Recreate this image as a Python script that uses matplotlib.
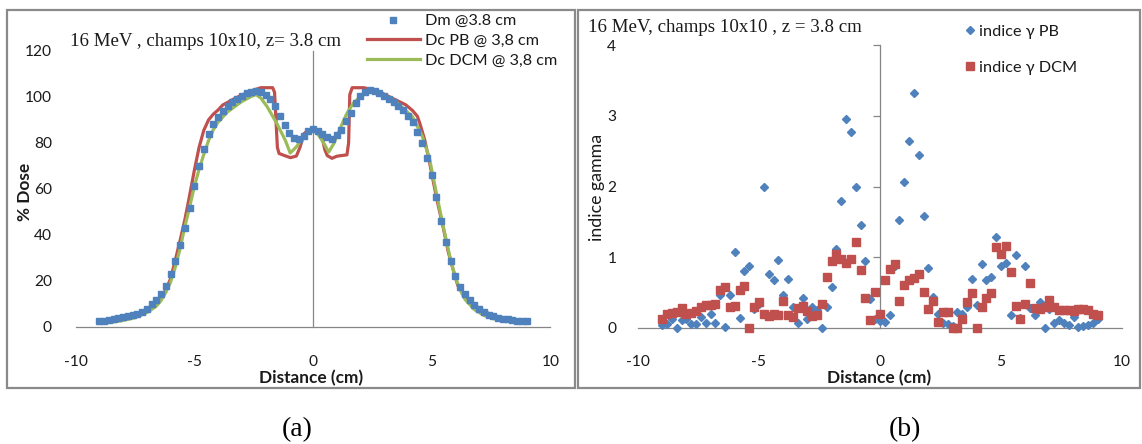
import numpy as np
import matplotlib
matplotlib.use("Agg")
import matplotlib.pyplot as plt
from matplotlib.patches import Rectangle

plt.rcParams['font.family'] = ['Lato', 'DejaVu Sans']
plt.rcParams['axes.unicode_minus'] = False

# ---------------- data ----------------
# (a) dose profiles, x in cm
x_dm = np.linspace(-9.0, 9.0, 91)
dm = [2.4, 2.7, 3.0, 3.3, 3.7, 4.1, 4.6, 5.1, 5.8, 6.6,
      8.0, 9.8, 11.8, 14.3, 17.8, 22.8, 28.6, 35.8, 42.9, 51.9,
      61.1, 69.8, 77.5, 83.8, 88.4, 91.3, 93.8, 96.0, 97.7, 99.2,
      100.5, 101.5, 102.3, 102.7, 102.1, 100.8, 99.1, 96.0, 91.6, 88.0,
      84.5, 82.2, 81.6, 83.2, 85.1, 86.0, 85.2, 83.9, 82.6, 81.6,
      83.3, 85.5, 89.6, 93.2, 97.2, 100.4, 102.3, 103.0, 102.7, 101.8,
      100.5, 99.2, 97.7, 96.0, 94.3, 91.6, 88.9, 84.8, 80.0, 73.6,
      65.9, 56.4, 46.0, 36.8, 28.6, 22.2, 17.4, 14.1, 11.6, 9.4,
      8.0, 6.5, 5.4, 4.6, 3.9, 3.6, 3.3, 2.9, 2.6, 2.5,
      2.4]

x_pb = [-9.0, -8.5, -8.0, -7.5, -7.0, -6.6, -6.4, -6.2, -6.0, -5.8, -5.6, -5.4,
        -5.2, -5.0, -4.8, -4.6, -4.4, -4.2, -4.0, -3.8, -3.6, -3.3, -3.0, -2.6,
        -2.2, -1.7, -1.62, -1.5, -1.43, -1.2, -0.95, -0.7, -0.55, -0.38, -0.2, 0.0,
        0.2, 0.38, 0.5, 0.6, 0.8, 1.0, 1.2, 1.43, 1.5, 1.55, 1.65, 2.15,
        2.4, 2.9, 3.5, 3.9, 4.2, 4.4, 4.5, 4.7, 4.9, 5.2, 5.5, 5.7,
        5.9, 6.1, 6.4, 6.8, 7.2, 7.6, 8.0, 8.5, 9.0]
pb = [2.2, 2.8, 3.8, 5.2, 7.5, 10.5, 12.8, 16.0, 21.0, 29.0, 37.5, 46.5,
      57.0, 68.0, 78.0, 85.5, 90.0, 92.5, 94.3, 96.5, 97.6, 99.3, 100.8, 102.6,
      104.0, 104.0, 102.0, 78.0, 75.4, 74.5, 73.6, 74.3, 78.0, 84.0, 85.5, 86.0,
      85.0, 82.6, 77.0, 74.5, 73.3, 74.2, 74.5, 74.8, 80.0, 101.0, 104.0, 104.0,
      103.2, 101.7, 98.6, 96.6, 94.0, 91.5, 88.5, 81.5, 72.0, 56.3, 42.5, 32.5,
      25.0, 18.0, 13.0, 9.5, 6.8, 5.0, 4.0, 3.0, 2.3]

x_dcm = [-9.0, -8.5, -8.0, -7.5, -7.0, -6.6, -6.4, -6.2, -6.0, -5.8, -5.6, -5.4,
         -5.2, -5.0, -4.8, -4.6, -4.4, -4.2, -4.0, -3.6, -3.0, -2.6, -2.4, -2.2,
         -1.94, -1.52, -1.17, -0.96, -0.68, -0.4, 0.0, 0.24, 0.45, 0.66, 0.87, 1.14,
         1.42, 1.7, 2.05, 2.4, 2.8, 3.5, 4.2, 4.6, 4.9, 5.2, 5.5, 5.8,
         6.0, 6.2, 6.4, 6.8, 7.2, 7.6, 8.0, 8.5, 9.0]
dcm = [1.5, 2.0, 2.8, 4.0, 6.2, 9.0, 11.5, 15.0, 19.5, 26.0, 34.0, 43.5,
       52.0, 61.0, 68.5, 75.0, 81.0, 85.7, 89.0, 93.5, 98.0, 100.2, 101.0, 99.5,
       95.9, 88.4, 81.2, 75.6, 78.5, 83.0, 86.2, 83.3, 80.0, 76.0, 79.6, 86.2,
       92.7, 97.3, 100.7, 102.4, 101.8, 97.8, 91.3, 83.0, 73.5, 58.0, 43.0, 29.0,
       21.5, 16.0, 12.0, 7.5, 5.0, 3.6, 2.8, 2.0, 1.5]

# (b) gamma indices
x_g = np.linspace(-9.0, 9.0, 91)
gamma_pb = [0.04, 0.05, 0.12, 0.00, 0.11, 0.13, 0.05, 0.05, 0.15, 0.07,
            0.20, 0.07, 0.46, 0.01, 0.47, 1.07, 0.14, 0.81, 0.87, 0.27,
            0.33, 2.00, 0.76, 0.68, 0.96, 0.46, 0.69, 0.30, 0.07, 0.42,
            0.13, 0.30, 0.25, 0.00, 0.29, 0.58, 1.12, 1.80, 2.95, 2.77,
            2.00, 1.46, 0.94, 0.40, 0.12, 0.10, 0.08, 0.18, 0.88, 1.53,
            2.06, 2.65, 3.32, 2.45, 1.58, 0.85, 0.44, 0.20, 0.06, 0.05,
            0.02, 0.22, 0.20, 0.29, 0.69, 0.32, 0.90, 0.68, 0.72, 1.28,
            0.87, 0.91, 0.18, 1.03, 0.14, 0.87, 0.28, 0.18, 0.37, 0.00,
            0.27, 0.06, 0.11, 0.07, 0.04, 0.15, 0.01, 0.02, 0.04, 0.07,
            0.12]
gamma_dcm = [0.12, 0.19, 0.21, 0.22, 0.28, 0.20, 0.21, 0.24, 0.30, 0.32,
             0.32, 0.34, 0.54, 0.58, 0.30, 0.31, 0.54, 0.59, 0.00, 0.30,
             0.37, 0.20, 0.17, 0.20, 0.18, 0.38, 0.18, 0.15, 0.28, 0.31,
             0.23, 0.17, 0.18, 0.34, 0.72, 0.95, 1.05, 0.98, 0.91, 0.98,
             1.22, 0.82, 0.42, 0.11, 0.50, 0.20, 0.68, 0.83, 0.90, 0.38,
             0.60, 0.68, 0.70, 0.76, 0.50, 0.27, 0.38, 0.08, 0.22, 0.22,
             0.00, 0.00, 0.13, 0.36, 0.49, 0.00, 0.30, 0.42, 0.49, 1.15,
             1.05, 1.16, 0.79, 0.31, 0.12, 0.33, 0.63, 0.28, 0.26, 0.30,
             0.39, 0.30, 0.25, 0.25, 0.25, 0.24, 0.26, 0.26, 0.25, 0.20,
             0.18]

xticks = [-10, -5, 0, 5, 10]
yticks_a = [0, 20, 40, 60, 80, 100, 120]
yticks_b = [0, 1, 2, 3, 4]

title_a = "16 MeV , champs 10x10, z= 3.8 cm"
title_b = "16 MeV, champs 10x10 , z = 3.8 cm"

# ---------------- styling ----------------
BLUE = '#4F81BD'
RED = '#C0504D'
GREEN = '#9BBB59'
AXC = '#868686'
TXT = '#1a1a1a'
W, H = 1142, 444
TICK_FS = 11.2
LEG_FS = 11.7


def fx(px):
    return px / W


def fy(py):
    return 1 - py / H


fig = plt.figure(figsize=(W / 100, H / 100), dpi=100)

# panel frames
for (l, t, r, b) in [(7, 10, 575, 388), (578, 10, 1140, 388)]:
    fig.patches.append(Rectangle((fx(l), fy(b)), (r - l) / W, (b - t) / H,
                                 transform=fig.transFigure, fill=False,
                                 edgecolor='#8a8a8a', lw=1.6))


def setup_axes(ax, ylo, yhi, ytks, ytick_pad, tick_len_y):
    ax.set_xlim(-10, 10)
    ax.set_ylim(ylo, yhi)
    for s in ['top', 'right']:
        ax.spines[s].set_visible(False)
    ax.spines['left'].set_position(('data', 0))
    ax.spines['left'].set_bounds(0, ytks[-1])
    ax.spines['bottom'].set_position(('data', 0))
    ax.spines['bottom'].set_bounds(-10, 10)
    for s in ['left', 'bottom']:
        ax.spines[s].set_color(AXC)
        ax.spines[s].set_linewidth(0.9)
    ax.set_yticks(ytks)
    ax.set_xticks(xticks)
    ax.tick_params(axis='y', length=tick_len_y, width=0.9, color=AXC,
                   direction='out', labelleft=False)
    ax.tick_params(axis='x', length=0, labelbottom=False)
    # tick labels at the outer edges
    sy = ax.secondary_yaxis('left')
    sy.set_yticks(ytks)
    sy.spines['left'].set_visible(False)
    sy.tick_params(length=0, pad=ytick_pad, labelsize=TICK_FS, labelcolor=TXT)
    sx = ax.secondary_xaxis('bottom')
    sx.set_xticks(xticks)
    sx.spines['bottom'].set_visible(False)
    sx.tick_params(length=0, pad=2.2, labelsize=TICK_FS, labelcolor=TXT)
    ax.patch.set_visible(False)
    return sx, sy


# ---------------- panel (a) ----------------
ax1 = fig.add_axes([fx(75.6), fy(352), (550.4 - 75.6) / W, (352 - 48.6) / H])
setup_axes(ax1, -10.9, 121, yticks_a, 17.0, 0)
ax1.plot(x_pb, pb, color=RED, lw=2.3, zorder=3, label='Dc PB @ 3,8 cm',
         solid_joinstyle='round')
ax1.plot(x_dcm, dcm, color=GREEN, lw=2.3, zorder=4, label='Dc DCM @ 3,8 cm',
         solid_joinstyle='round')
ax1.plot(x_dm, dm, ls='none', marker='s', ms=3.7, color=BLUE, mec=BLUE,
         zorder=5, label='Dm @3.8 cm')
h, l = ax1.get_legend_handles_labels()
order = [2, 0, 1]
ax1.legend([h[i] for i in order], [l[i] for i in order],
           loc='upper left', bbox_to_anchor=(fx(366.7), fy(14.0)),
           bbox_transform=fig.transFigure, frameon=False, borderpad=0,
           borderaxespad=0, handlelength=3.25, handletextpad=0.35,
           labelspacing=0.33, fontsize=LEG_FS, labelcolor=TXT)
fig.text(fx(70), fy(41), title_a, family='Liberation Serif', fontsize=13.6,
         ha='left', va='center', color=TXT)
ax1.set_xlabel('Distance (cm)', fontsize=12.4, fontweight='bold', color=TXT)
ax1.xaxis.set_label_coords((311 - 75.6) / 474.8, (352 - 378.5) / 303.4)
ax1.xaxis.label.set_va('center')
ax1.set_ylabel('% Dose', fontsize=12.4, fontweight='bold', color=TXT)
ax1.yaxis.set_label_coords((25 - 75.6) / 474.8, (352 - 192) / 303.4)
ax1.yaxis.label.set_va('center')

# ---------------- panel (b) ----------------
b_ylo, b_yhi = -0.344, 4.03
ax2 = fig.add_axes([fx(638), fy(352), (1122 - 638) / W, (352 - 43.2) / H])
setup_axes(ax2, b_ylo, b_yhi, yticks_b, 15.6, 5)
ax2.plot(x_g, gamma_pb, ls='none', marker='D', ms=4.0, color=BLUE, mec=BLUE,
         zorder=4, label='indice γ PB')
ax2.plot(x_g, gamma_dcm, ls='none', marker='s', ms=6.2, color=RED, mec=RED,
         zorder=5, label='indice γ DCM')
ax2.legend(loc='upper left', bbox_to_anchor=(fx(963.8), fy(24.5)),
           bbox_transform=fig.transFigure, frameon=False, borderpad=0,
           borderaxespad=0, handlelength=0.75, handletextpad=0.2,
           labelspacing=1.33, fontsize=LEG_FS, labelcolor=TXT)
fig.text(fx(588), fy(27), title_b, family='Liberation Serif', fontsize=13.6,
         ha='left', va='center', color=TXT)
ax2.set_xlabel('Distance (cm)', fontsize=12.4, fontweight='bold', color=TXT)
ax2.xaxis.set_label_coords((879 - 638) / 484, (352 - 378.5) / 308.8)
ax2.xaxis.label.set_va('center')
ax2.set_ylabel('indice gamma', fontsize=12.8, color=TXT)
ax2.yaxis.set_label_coords((597 - 638) / 484, (352 - 187) / 308.8)
ax2.yaxis.label.set_va('center')

# panel captions
fig.text(fx(297), fy(430), '(a)', family='Liberation Serif', fontsize=20,
         ha='center', va='center', color='black')
fig.text(fx(905), fy(430), '(b)', family='Liberation Serif', fontsize=20,
         ha='center', va='center', color='black')

fig.savefig('out.png', dpi=100)
